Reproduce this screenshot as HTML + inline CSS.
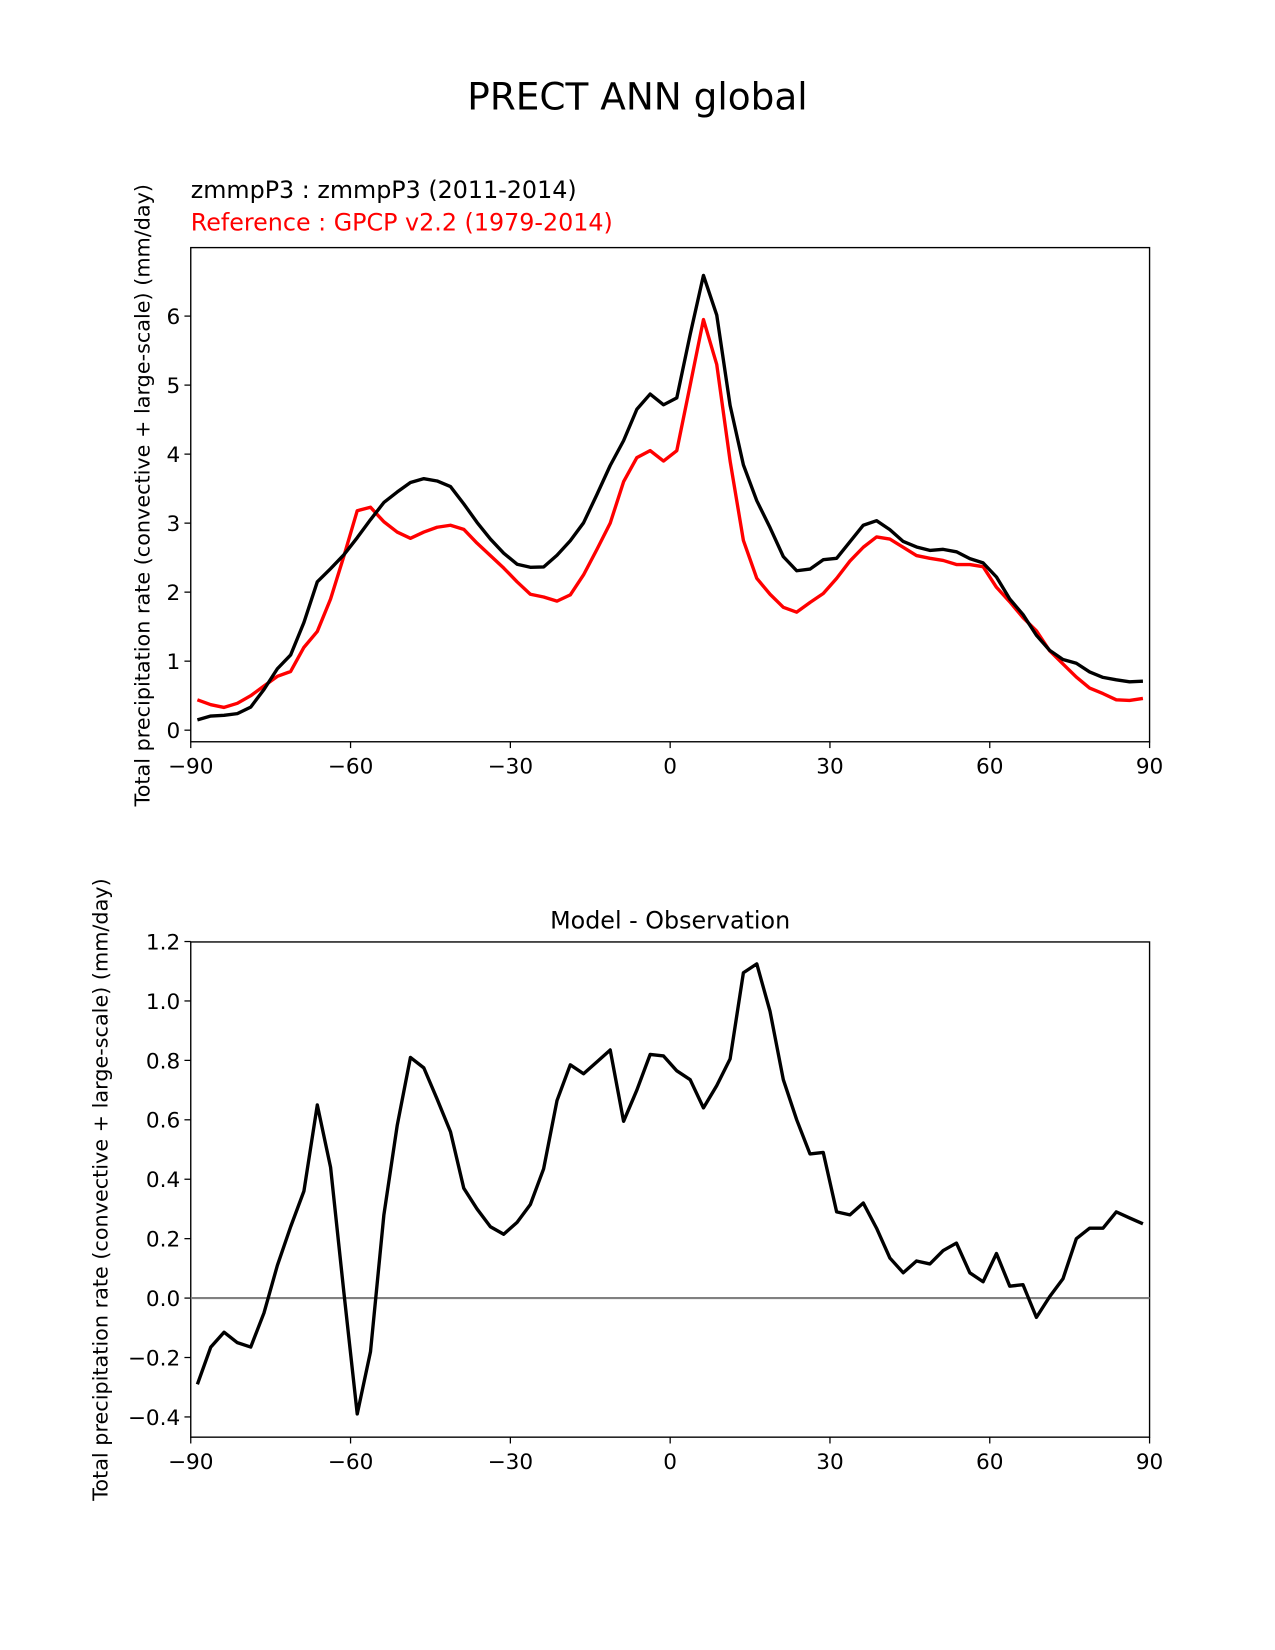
<!DOCTYPE html>
<html><head><meta charset="utf-8"><style>
html,body{margin:0;padding:0;background:#fff}
svg{display:block;font-family:"DejaVu Sans","Liberation Sans",sans-serif}
</style></head><body>
<svg id="fig" width="1275" height="1650" viewBox="0 0 1210 1566" xmlns="http://www.w3.org/2000/svg">
<rect width="1210" height="1566" fill="#fff"/>
<text x="605" y="104" font-size="35.5" text-anchor="middle">PRECT ANN global</text>
<text x="181" y="188" font-size="22.6">zmmpP3 : zmmpP3 (2011-2014)</text>
<text x="181" y="219" font-size="22.6" fill="#ff0000">Reference : GPCP v2.2 (1979-2014)</text>
<text x="636" y="881" font-size="22.6" text-anchor="middle">Model - Observation</text>
<text transform="translate(142,470) rotate(-90)" font-size="19.7" text-anchor="middle">Total precipitation rate (convective + large-scale) (mm/day)</text>
<text transform="translate(102,1129) rotate(-90)" font-size="19.7" text-anchor="middle">Total precipitation rate (convective + large-scale) (mm/day)</text>
<g id="top"></g><g id="bot"></g>
</svg>
<script>
const lats = [];
for (let i = 0; i < 72; i++) lats.push(-88.75 + 2.5 * i);
const obsValues = [0.44,0.37,0.33,0.39,0.50,0.64,0.78,0.85,1.20,1.43,1.90,2.52,3.18,3.23,3.02,2.87,2.78,2.87,2.94,2.97,2.91,2.71,2.53,2.35,2.15,1.97,1.93,1.87,1.96,2.25,2.62,3.00,3.60,3.95,4.05,3.90,4.05,5.00,5.95,5.30,3.90,2.75,2.20,1.97,1.78,1.71,1.85,1.98,2.20,2.45,2.65,2.80,2.77,2.65,2.53,2.49,2.46,2.40,2.40,2.37,2.07,1.86,1.63,1.44,1.15,0.96,0.77,0.61,0.53,0.44,0.43,0.46];
const modelValues = [0.15,0.205,0.215,0.24,0.335,0.59,0.89,1.09,1.56,2.15,2.34,2.54,2.79,3.05,3.30,3.45,3.59,3.645,3.61,3.53,3.28,3.01,2.77,2.565,2.405,2.36,2.365,2.535,2.745,3.005,3.415,3.835,4.195,4.65,4.87,4.715,4.815,5.735,6.59,6.015,4.705,3.845,3.325,2.935,2.515,2.31,2.335,2.47,2.49,2.73,2.97,3.035,2.905,2.735,2.655,2.605,2.62,2.585,2.485,2.425,2.22,1.90,1.675,1.375,1.155,1.025,0.97,0.845,0.765,0.73,0.70,0.71];
const diffValues = [-0.29,-0.165,-0.115,-0.15,-0.165,-0.05,0.11,0.24,0.36,0.65,0.44,0.02,-0.39,-0.18,0.28,0.58,0.81,0.775,0.67,0.56,0.37,0.30,0.24,0.215,0.255,0.315,0.435,0.665,0.785,0.755,0.795,0.835,0.595,0.70,0.82,0.815,0.765,0.735,0.64,0.715,0.805,1.095,1.125,0.965,0.735,0.60,0.485,0.49,0.29,0.28,0.32,0.235,0.135,0.085,0.125,0.115,0.16,0.185,0.085,0.055,0.15,0.04,0.045,-0.065,0.005,0.065,0.20,0.235,0.235,0.29,0.27,0.25];
const xTicks = [-90,-60,-30,0,30,60,90];
const xTickLabels = ["\u221290","\u221260","\u221230","0","30","60","90"];
const topYTicks = [0,1,2,3,4,5,6];
const botYTicks = [-0.4,-0.2,0,0.2,0.4,0.6,0.8,1.0,1.2];
const botYTickLabels = ["\u22120.4","\u22120.2","0.0","0.2","0.4","0.6","0.8","1.0","1.2"];

const NS = "http://www.w3.org/2000/svg";
function mk(tag, attrs, parent, txt) {
  const e = document.createElementNS(NS, tag);
  for (const k in attrs) e.setAttribute(k, attrs[k]);
  if (txt !== undefined) e.textContent = txt;
  parent.appendChild(e);
  return e;
}
const X0 = 181, X1 = 1091;
const xs = v => X0 + (v + 90) / 180 * (X1 - X0);

function panel(g, top, bottom, ys, yt, yl, fmtName) {
  const fr = mk("rect", {x: X0, y: top, width: X1 - X0, height: bottom - top, fill: "none", stroke: "#000", "stroke-width": 1.3}, g);
  
  
  xTicks.forEach((t, i) => {
    const x = xs(t);
    const tk = mk("line", {x1: x, x2: x, y1: bottom, y2: bottom + 6, stroke: "#000", "stroke-width": 1.2}, g);
    
    
    const lb = mk("text", {x: x, y: bottom + 30, "font-size": 20.5, "text-anchor": "middle"}, g, xTickLabels[i]);
    
    
  });
  yt.forEach((t, i) => {
    const y = ys(t);
    const tk = mk("line", {x1: X0 - 6, x2: X0, y1: y, y2: y, stroke: "#000", "stroke-width": 1.2}, g);
    
    
    const lb = mk("text", {x: X0 - 10, y: y + 7.5, "font-size": 20.5, "text-anchor": "end"}, g, yl[i]);
    
    
  });
}
function line(g, vals, ys, color, name, w) {
  const pts = vals.map((v, i) => xs(lats[i]).toFixed(1) + "," + ys(v).toFixed(1)).join(" ");
  const p = mk("polyline", {points: pts, fill: "none", stroke: color, "stroke-width": w || 3.2, "stroke-linejoin": "round"}, g);
  
  
}
const gt = document.getElementById("top");
const ysT = v => 693 - v * 65.5;
panel(gt, 235, 704, ysT, topYTicks, topYTicks.map(String), "top");
line(gt, obsValues, ysT, "#ff0000", "reference-line");
line(gt, modelValues, ysT, "#000", "model-line");
const gb = document.getElementById("bot");
const ysB = v => 1232 - v * 282;
panel(gb, 894, 1364, ysB, botYTicks, botYTickLabels, "bottom");
const zl = mk("line", {x1: X0, x2: X1, y1: ysB(0), y2: ysB(0), stroke: "#808080", "stroke-width": 2}, gb);


line(gb, diffValues, ysB, "#000", "difference-line");
</script>
</body></html>
